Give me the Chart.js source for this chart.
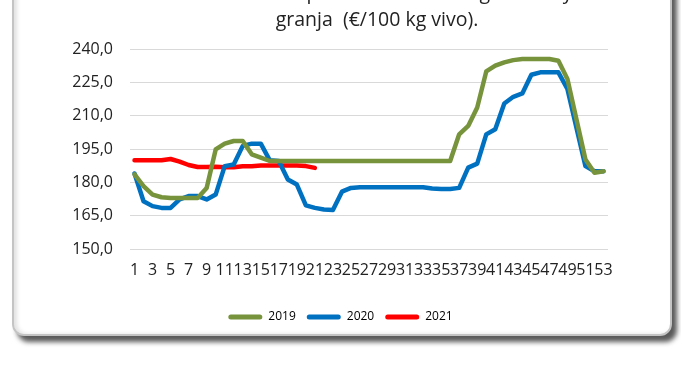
<!DOCTYPE html>
<html lang="es">
<head>
<meta charset="utf-8">
<script src="https://cdn.jsdelivr.net/npm/chart.js@4.4.0/dist/chart.umd.min.js"></script>
<style>
    body {
        margin: 0;
        width: 681px;
        height: 369px;
        overflow: hidden;
        background: #fff;
        position: relative;
    }
    /* marco redondeado con sombra */
    .marco {
        position: absolute;
        left: 12px;
        top: -40px;
        width: 656px;
        height: 372px;
        border: 2px solid #c4c4c4;
        border-radius: 12px;
        background: #fff;
        box-shadow: 5px 6px 5px rgba(0, 0, 0, 0.65), inset 3px 0 4px rgba(0, 0, 0, 0.12);
    }
    #grafico {
        position: absolute;
        left: 0;
        top: 0;
    }
</style>
</head>
<body>
<div class="marco"></div>
<canvas id="grafico" width="681" height="369"></canvas>

<script>
// DATOS

const semanas = [];
for (let s = 1; s <= 53; s++) semanas.push(String(s));

const precios2019 = [183.6, 178.3, 174.5, 173.3, 173.0, 173.0, 173.0, 173.0, 177.5, 194.8,
    197.4, 198.6, 198.6, 192.6, 191.1, 189.6, 189.6, 189.6, 189.6, 189.6,
    189.6, 189.6, 189.6, 189.6, 189.6, 189.6, 189.6, 189.6, 189.6, 189.6,
    189.6, 189.6, 189.6, 189.6, 189.6, 189.6, 201.6, 205.4, 213.7, 229.9,
    232.5, 234.0, 235.0, 235.5, 235.5, 235.5, 235.5, 234.7, 226.5, 208.4,
    190.3, 184.3, 185.0];

const precios2020 = [184.0, 171.5, 169.3, 168.5, 168.5, 172.3, 173.8, 173.8, 172.3, 174.5,
    187.3, 188.0, 196.4, 197.4, 197.4, 189.9, 189.6, 181.3, 179.0, 169.6,
    168.5, 167.8, 167.6, 175.8, 177.5, 177.8, 177.8, 177.8, 177.8, 177.8,
    177.8, 177.8, 177.8, 177.2, 177.0, 177.0, 177.5, 186.6, 188.4, 201.6,
    203.9, 215.5, 218.5, 220.0, 228.4, 229.5, 229.5, 229.5, 222.0, 204.6,
    187.3, 185.0, 185.0];

const precios2021 = [189.9, 189.9, 189.9, 189.9, 190.5, 189.3, 187.8, 186.9, 186.9, 187.0,
    186.8, 186.8, 187.2, 187.2, 187.6, 187.6, 187.6, 187.6, 187.6, 187.3,
    186.5];

const colores = {
    "2019": "#77933c",
    "2020": "#0070c0",
    "2021": "#ff0000"
};

const ticksY = [150, 165, 180, 195, 210, 225, 240];

const tituloLineas = [
    "Evolución del precio del lechal según raza y",
    "granja  (€/100 kg vivo)."
];


// TITULO (dos líneas, centrado sobre el área del gráfico)

const tituloPlugin = {
    id: "tituloManual",
    afterDraw(chart) {
        const ctx = chart.ctx;
        ctx.save();
        ctx.fillStyle = "#222";
        ctx.font = "19.5px 'Open Sans', sans-serif";
        ctx.textAlign = "center";
        ctx.textBaseline = "alphabetic";
        ctx.fillText(tituloLineas[0], 377, -1);
        ctx.fillText(tituloLineas[1], 377, 26);
        ctx.restore();
    }
};


// GRAFICO

Chart.defaults.font.family = "'Open Sans', sans-serif";
Chart.defaults.color = "#222";

function serie(nombre, datos) {
    return {
        label: nombre,
        data: datos,
        borderColor: colores[nombre],
        backgroundColor: colores[nombre],
        borderWidth: 4.5,
        pointRadius: 0,
        pointHoverRadius: 0,
        tension: 0,
        borderJoinStyle: "round",
        borderCapStyle: "round",
        spanGaps: false
    };
}

new Chart(document.getElementById("grafico"), {
    type: "line",
    data: {
        labels: semanas,
        datasets: [
            serie("2019", precios2019),
            serie("2020", precios2020),
            serie("2021", precios2021)
        ]
    },
    options: {
        responsive: false,
        animation: false,
        layout: {
            padding: { top: 49, right: 0, bottom: 36, left: 0 }
        },
        plugins: {
            title: { display: false },
            tooltip: { enabled: false },
            legend: {
                position: "bottom",
                labels: {
                    boxWidth: 34,
                    boxHeight: 5,
                    padding: 11,
                    useBorderRadius: true,
                    borderRadius: 2.5,
                    font: { size: 12 },
                    generateLabels(chart) {
                        return chart.data.datasets.map((ds, i) => ({
                            text: ds.label,
                            fillStyle: ds.borderColor,
                            strokeStyle: ds.borderColor,
                            lineWidth: 0,
                            datasetIndex: i,
                            borderRadius: 2.5
                        }));
                    }
                }
            }
        },
        scales: {
            x: {
                offset: true,
                grid: { display: false, drawTicks: false },
                border: { display: false },
                ticks: {
                    autoSkip: false,
                    maxRotation: 0,
                    minRotation: 0,
                    padding: 12,
                    font: { size: 16 },
                    callback: function (val, idx) {
                        return idx % 2 === 0 ? this.getLabelForValue(val) : "";
                    }
                },
                afterFit(scale) {
                    scale.height = 51;
                }
            },
            y: {
                min: 150,
                max: 240,
                afterBuildTicks(scale) {
                    scale.ticks = ticksY.map(v => ({ value: v }));
                },
                grid: { color: "#d9d9d9", lineWidth: 1, drawTicks: false },
                border: { display: false },
                ticks: {
                    padding: 17,
                    font: { size: 16 },
                    callback: v => v.toFixed(1).replace(".", ",")
                },
                afterFit(scale) {
                    scale.width = 130;
                }
            },
            // eje vacío a la derecha: reserva el margen sin desplazar la leyenda
            margen: {
                type: "linear",
                position: "right",
                grid: { display: false, drawTicks: false },
                border: { display: false },
                ticks: { display: false },
                afterFit(scale) {
                    scale.width = 73;
                }
            }
        }
    },
    plugins: [tituloPlugin]
});
</script>
</body>
</html>
